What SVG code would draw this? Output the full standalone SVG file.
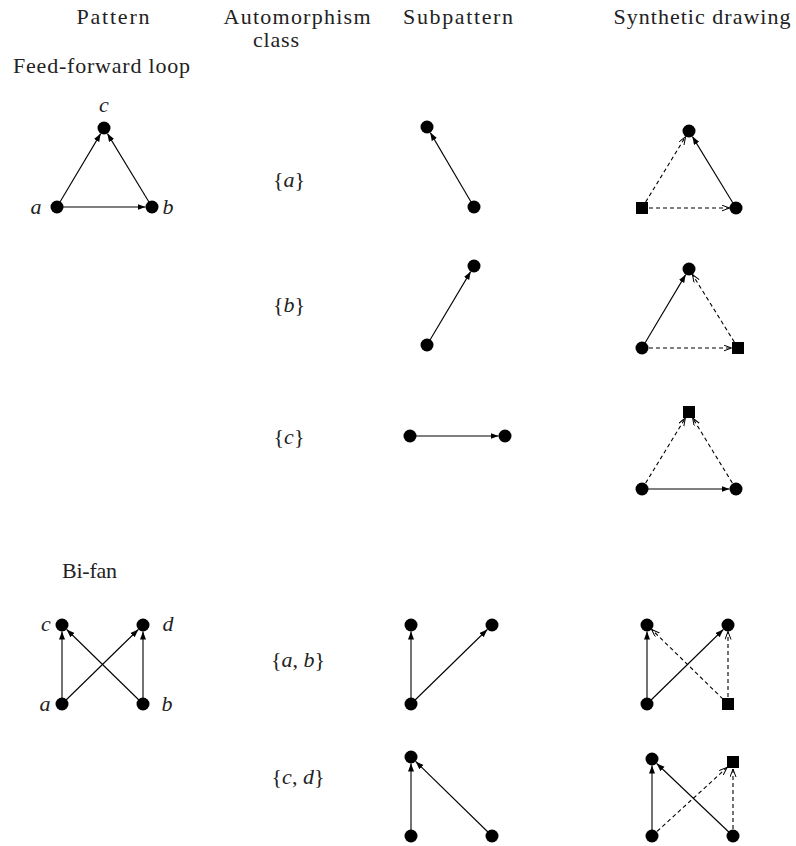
<svg xmlns="http://www.w3.org/2000/svg" width="796" height="846" viewBox="0 0 796 846" font-family="'Liberation Serif', 'Times New Roman', 'DejaVu Serif', serif">
<style>
text{font-family:'Liberation Serif','Times New Roman','DejaVu Serif',serif;font-size:22px;fill:#222}
.i{font-style:italic}
.s{stroke:#000;stroke-width:1.1;fill:none;marker-end:url(#fa)}
.d{stroke:#000;stroke-width:1.1;fill:none;stroke-dasharray:4,3;marker-end:url(#oa)}
.n{fill:#000}
</style>
<defs>
<marker id="fa" markerUnits="userSpaceOnUse" markerWidth="10" markerHeight="8" refX="8" refY="3" orient="auto"><path d="M0,0 L8,3 L0,6 z" fill="#000"/></marker>
<marker id="oa" markerUnits="userSpaceOnUse" markerWidth="10" markerHeight="8" refX="8" refY="3" orient="auto"><path d="M0,0 L8,3 L0,6" fill="none" stroke="#000" stroke-width="1"/></marker>
</defs>
<g id="headers">
<text x="113" y="24" text-anchor="middle" textLength="73">Pattern</text>
<text x="297" y="24" text-anchor="middle" textLength="147">Automorphism</text>
<text x="276" y="47" text-anchor="middle" textLength="46">class</text>
<text x="458" y="24" text-anchor="middle" textLength="110">Subpattern</text>
<text x="702" y="24" text-anchor="middle" textLength="177">Synthetic drawing</text>
<text x="13" y="73" textLength="177">Feed-forward loop</text>
<text x="62" y="578" textLength="55">Bi-fan</text>
</g>
<g id="classes">
<text x="289" y="187" text-anchor="middle">{<tspan class="i">a</tspan>}</text>
<text x="289" y="312" text-anchor="middle">{<tspan class="i">b</tspan>}</text>
<text x="289" y="444" text-anchor="middle">{<tspan class="i">c</tspan>}</text>
<text x="298" y="667" text-anchor="middle">{<tspan class="i">a</tspan>, <tspan class="i">b</tspan>}</text>
<text x="298" y="784" text-anchor="middle">{<tspan class="i">c</tspan>, <tspan class="i">d</tspan>}</text>
</g>
<g id="connectors">
<line class="s" x1="57" y1="207" x2="100.7" y2="133.6"/>
<line class="s" x1="152" y1="207" x2="107.4" y2="133.6"/>
<line class="s" x1="57" y1="207" x2="145.5" y2="207"/>
<line class="s" x1="474" y1="207" x2="430.3" y2="132.6"/>
<line class="d" x1="642" y1="208" x2="685.6" y2="136.6"/>
<line class="d" x1="642" y1="208" x2="729.5" y2="208"/>
<line class="s" x1="736" y1="208" x2="692.4" y2="136.6"/>
<line class="s" x1="427" y1="345" x2="470.7" y2="271.6"/>
<line class="s" x1="642" y1="348" x2="685.7" y2="274.6"/>
<line class="d" x1="642" y1="348" x2="731.5" y2="348"/>
<line class="d" x1="738" y1="348" x2="692.4" y2="274.5"/>
<line class="s" x1="410" y1="436" x2="498.5" y2="436"/>
<line class="s" x1="642" y1="489" x2="729.5" y2="489"/>
<line class="d" x1="642" y1="489" x2="685.4" y2="418"/>
<line class="d" x1="736" y1="489" x2="692.6" y2="418"/>
<line class="s" x1="62" y1="704" x2="62" y2="631.5"/>
<line class="s" x1="143" y1="704" x2="143" y2="631.5"/>
<line class="s" x1="62" y1="704" x2="138.3" y2="629.5"/>
<line class="s" x1="143" y1="704" x2="66.7" y2="629.5"/>
<line class="s" x1="411" y1="704" x2="411" y2="631.5"/>
<line class="s" x1="411" y1="704" x2="487.3" y2="629.5"/>
<line class="s" x1="647" y1="704" x2="647" y2="631.5"/>
<line class="s" x1="647" y1="704" x2="723.3" y2="629.5"/>
<line class="d" x1="728" y1="704" x2="651.7" y2="629.5"/>
<line class="d" x1="728" y1="704" x2="728" y2="631.5"/>
<line class="s" x1="411" y1="836" x2="411" y2="763.5"/>
<line class="s" x1="492" y1="836" x2="415.7" y2="761.5"/>
<line class="s" x1="652" y1="836" x2="652" y2="765.5"/>
<line class="s" x1="733" y1="836" x2="656.7" y2="763.5"/>
<line class="d" x1="652" y1="836" x2="727.1" y2="767.4"/>
<line class="d" x1="733" y1="836" x2="733" y2="769"/>
</g>
<g id="ffl-pattern">
<circle class="n" cx="104" cy="128" r="6.5"/><circle class="n" cx="57" cy="207" r="6.5"/><circle class="n" cx="152" cy="207" r="6.5"/>
<text class="i" x="104" y="112" text-anchor="middle">c</text>
<text class="i" x="36" y="214" text-anchor="middle">a</text>
<text class="i" x="168" y="214" text-anchor="middle">b</text>
</g>
<g id="ffl-sub-a"><circle class="n" cx="427" cy="127" r="6.5"/><circle class="n" cx="474" cy="207" r="6.5"/></g>
<g id="ffl-syn-a"><circle class="n" cx="689" cy="131" r="6.5"/><rect class="n" x="636" y="202" width="12" height="12"/><circle class="n" cx="736" cy="208" r="6.5"/></g>
<g id="ffl-sub-b"><circle class="n" cx="474" cy="266" r="6.5"/><circle class="n" cx="427" cy="345" r="6.5"/></g>
<g id="ffl-syn-b"><circle class="n" cx="689" cy="269" r="6.5"/><circle class="n" cx="642" cy="348" r="6.5"/><rect class="n" x="732" y="342" width="12" height="12"/></g>
<g id="ffl-sub-c"><circle class="n" cx="410" cy="436" r="6.5"/><circle class="n" cx="505" cy="436" r="6.5"/></g>
<g id="ffl-syn-c"><rect class="n" x="683" y="406" width="12" height="12"/><circle class="n" cx="642" cy="489" r="6.5"/><circle class="n" cx="736" cy="489" r="6.5"/></g>
<g id="bifan-pattern">
<circle class="n" cx="62" cy="625" r="6.5"/><circle class="n" cx="143" cy="625" r="6.5"/><circle class="n" cx="62" cy="704" r="6.5"/><circle class="n" cx="143" cy="704" r="6.5"/>
<text class="i" x="46" y="631" text-anchor="middle">c</text>
<text class="i" x="168" y="631" text-anchor="middle">d</text>
<text class="i" x="45" y="711" text-anchor="middle">a</text>
<text class="i" x="167" y="711" text-anchor="middle">b</text>
</g>
<g id="bifan-sub-ab"><circle class="n" cx="411" cy="625" r="6.5"/><circle class="n" cx="492" cy="625" r="6.5"/><circle class="n" cx="411" cy="704" r="6.5"/></g>
<g id="bifan-syn-ab"><circle class="n" cx="647" cy="625" r="6.5"/><circle class="n" cx="728" cy="625" r="6.5"/><circle class="n" cx="647" cy="704" r="6.5"/><rect class="n" x="722" y="698" width="12" height="12"/></g>
<g id="bifan-sub-cd"><circle class="n" cx="411" cy="757" r="6.5"/><circle class="n" cx="411" cy="836" r="6.5"/><circle class="n" cx="492" cy="836" r="6.5"/></g>
<g id="bifan-syn-cd"><circle class="n" cx="652" cy="759" r="6.5"/><rect class="n" x="727" y="756" width="12" height="12"/><circle class="n" cx="652" cy="836" r="6.5"/><circle class="n" cx="733" cy="836" r="6.5"/></g>
</svg>
